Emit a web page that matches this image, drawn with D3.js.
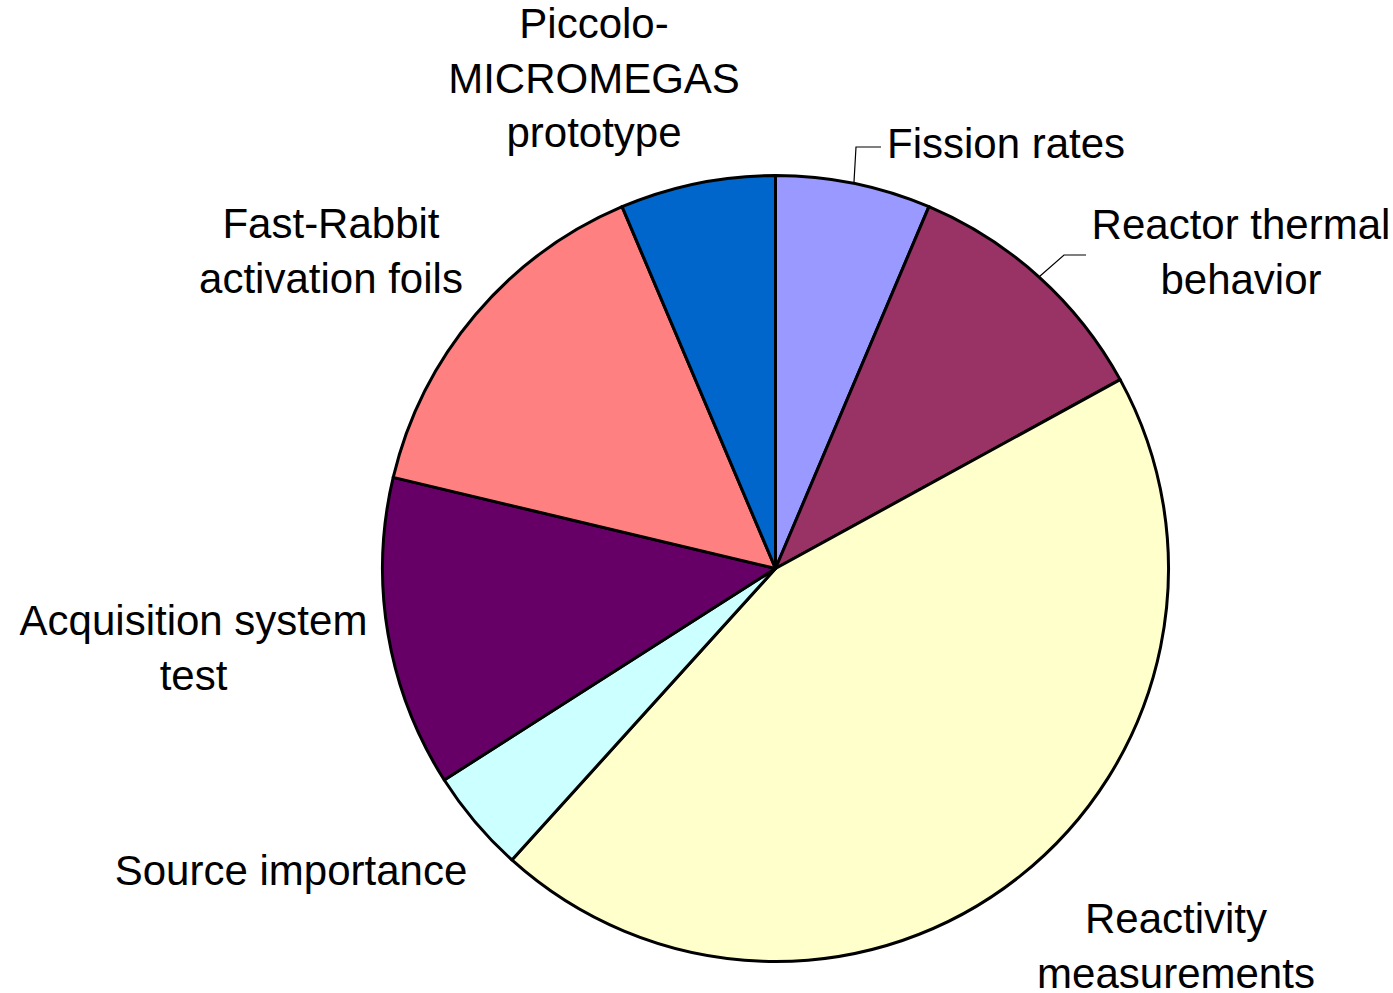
<!DOCTYPE html>
<html>
<head>
<meta charset="utf-8">
<script src="https://cdn.jsdelivr.net/npm/d3@7"></script>
<style>
  html, body { margin: 0; padding: 0; background: #fff; }
  svg { display: block; }
  text { font-family: "Liberation Sans", Arial, sans-serif; font-size: 42px; fill: #000; }
</style>
</head>
<body>
<svg id="chart" width="1393" height="993"></svg>
<script>
// Share of experiment time by topic (counts, clockwise from 12 o'clock)
const categories = [
  "Fission rates",
  "Reactor thermal behavior",
  "Reactivity measurements",
  "Source importance",
  "Acquisition system test",
  "Fast-Rabbit activation foils",
  "Piccolo-MICROMEGAS prototype"
];
const values = [3, 5, 21, 2, 6, 7, 3];
const colors = ["#9999FF", "#993366", "#FFFFCC", "#CCFFFF", "#660066", "#FF8080", "#0066CC"];

// Label text broken into lines, with anchor and placement
const labelLines = [
  ["Fission rates"],
  ["Reactor thermal", "behavior"],
  ["Reactivity", "measurements"],
  ["Source importance"],
  ["Acquisition system", "test"],
  ["Fast-Rabbit", "activation foils"],
  ["Piccolo-", "MICROMEGAS", "prototype"]
];
const labelPos = [
  { x: 887,  y: 158, anchor: "start" },
  { x: 1241, y: 239, anchor: "middle" },
  { x: 1176, y: 933, anchor: "middle" },
  { x: 291,  y: 885, anchor: "middle" },
  { x: 193.5, y: 635, anchor: "middle" },
  { x: 331,  y: 238, anchor: "middle" },
  { x: 594,  y: 38,  anchor: "middle" }
];
const lineGap = 54.5;

const cx = 775.5, cy = 568.5, radius = 393;

const svg = d3.select("#chart");
const g = svg.append("g").attr("transform", `translate(${cx},${cy})`);

const pie = d3.pie().sort(null).value(d => d.value);
const arc = d3.arc().innerRadius(0).outerRadius(radius);

const data = categories.map((c, i) => ({ name: c, value: values[i], color: colors[i] }));
const arcs = pie(data);

g.selectAll("path.slice")
  .data(arcs)
  .join("path")
  .attr("class", "slice")
  .attr("d", arc)
  .attr("fill", d => d.data.color)
  .attr("stroke", "#000")
  .attr("stroke-width", 3)
  .attr("stroke-linejoin", "round");

// Leader lines from the slice mid-angle on the rim to the label
function edgePoint(angle, r) {
  return [cx + r * Math.sin(angle), cy - r * Math.cos(angle)];
}
const leaders = [
  { slice: 0, knee: [856, 147], end: [881, 147] },
  { slice: 1, knee: [1064, 255], end: [1086, 255] }
];
leaders.forEach(l => {
  const a = arcs[l.slice];
  const ang = (a.startAngle + a.endAngle) / 2;
  const p = edgePoint(ang, radius + 1);
  svg.append("polyline")
    .attr("points", [p, l.knee, l.end].map(q => q.join(",")).join(" "))
    .attr("fill", "none")
    .attr("stroke", "#000")
    .attr("stroke-width", 1.2);
});

// Category labels
labelLines.forEach((lines, i) => {
  const pos = labelPos[i];
  const t = svg.append("text")
    .attr("text-anchor", pos.anchor)
    .attr("x", pos.x)
    .attr("y", pos.y);
  lines.forEach((ln, j) => {
    t.append("tspan")
      .attr("x", pos.x)
      .attr("y", pos.y + j * lineGap)
      .text(ln);
  });
});
</script>
</body>
</html>
